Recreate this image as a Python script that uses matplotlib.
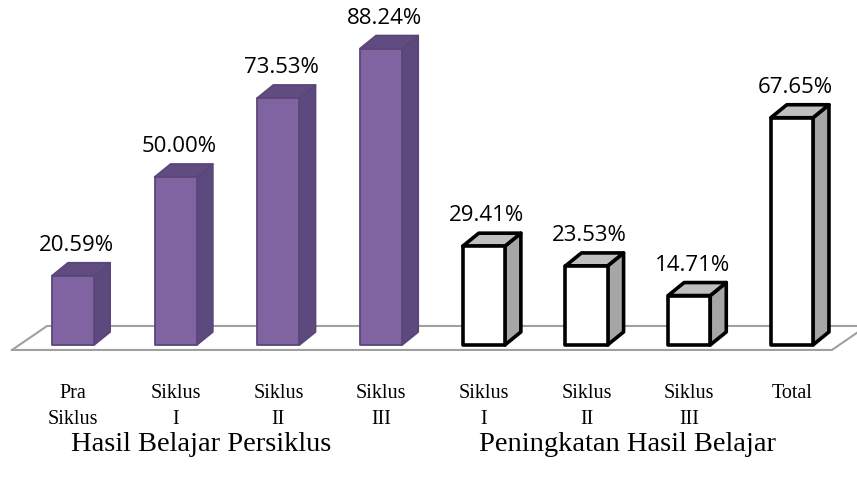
import matplotlib.pyplot as plt
from matplotlib.patches import Polygon

# data
categories = [["Pra", "Siklus"], ["Siklus", "I"], ["Siklus", "II"], ["Siklus", "III"],
              ["Siklus", "I"], ["Siklus", "II"], ["Siklus", "III"], ["Total", ""]]
values = [20.59, 50.00, 73.53, 88.24, 29.41, 23.53, 14.71, 67.65]
labels = ["20.59%", "50.00%", "73.53%", "88.24%", "29.41%", "23.53%", "14.71%", "67.65%"]
groups = ["Hasil Belajar Persiklus", "Peningkatan Hasil Belajar"]
group_centers = [1.25, 5.40]

# styles for the fake 3d look
width = 0.41
ddx = 0.156
ddy = 3.87
purple = dict(front="#8064A2", side="#5C4A7E", top="#604C80", edge="#5A4778", lw=1.3)
white = dict(front="#FFFFFF", side="#A6A6A6", top="#BFBFBF", edge="#000000", lw=2.6)

fig = plt.figure(figsize=(8.57, 4.82), dpi=100)
ax = fig.add_axes([0, 0, 1, 1])
ax.set_xlim(-0.711, 7.634)
ax.set_ylim(-40.8, 102.7)
ax.axis("off")

# floor
fy0, fy1 = -1.49, 5.65
ax.plot([-0.594, 7.39, 7.73], [fy0, fy0, fy1], color="#A0A0A0", lw=1.5, zorder=1)
ax.plot([-0.594, -0.253, 7.8], [fy0, fy1, fy1], color="#A0A0A0", lw=1.5, zorder=1)

for i, v in enumerate(values):
    st = purple if i < 4 else white
    x0 = i - width / 2
    x1 = i + width / 2
    front = [(x0, 0), (x1, 0), (x1, v), (x0, v)]
    side = [(x1, 0), (x1 + ddx, ddy), (x1 + ddx, v + ddy), (x1, v)]
    top = [(x0, v), (x1, v), (x1 + ddx, v + ddy), (x0 + ddx, v + ddy)]
    for pts, c in [(side, st["side"]), (top, st["top"]), (front, st["front"])]:
        ax.add_patch(Polygon(pts, closed=True, facecolor=c, edgecolor=st["edge"],
                             lw=st["lw"], joinstyle="round", zorder=3))
    ax.text(i + 0.03, v + ddy + 2.0, labels[i], ha="center", va="bottom",
            fontsize=16, family="Open Sans", zorder=4)
    ax.text(i, -14.4, categories[i][0], ha="center", va="center",
            fontsize=14.5, family="Liberation Serif")
    ax.text(i, -22.3, categories[i][1], ha="center", va="center",
            fontsize=14.5, family="Liberation Serif")

for g, c in zip(groups, group_centers):
    ax.text(c, -29.6, g, ha="center", va="center", fontsize=20.5, family="Liberation Serif")

fig.savefig("out.png", dpi=100)
